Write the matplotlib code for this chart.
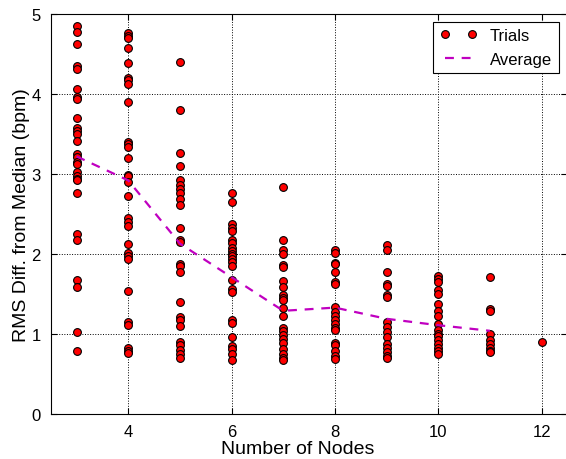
import matplotlib
matplotlib.use("Agg")
import matplotlib.pyplot as plt

# Trial values, one list per node count.
trials = {
    3: [4.85, 4.78, 4.62, 4.35, 4.31, 4.06, 3.96, 3.94, 3.70, 3.58, 3.54, 3.50,
        3.41, 3.25, 3.21, 3.15, 3.12, 3.02, 2.98, 2.94, 2.92, 2.76, 2.25, 2.18,
        1.68, 1.59, 1.02, 0.79],
    4: [4.76, 4.73, 4.70, 4.58, 4.39, 4.20, 4.17, 4.12, 3.90, 3.40, 3.37, 3.34,
        3.20, 2.99, 2.97, 2.90, 2.73, 2.45, 2.40, 2.35, 2.13, 2.01, 1.98, 1.94,
        1.54, 1.15, 1.11, 0.82, 0.79, 0.76],
    5: [4.40, 3.80, 3.26, 3.10, 2.93, 2.86, 2.81, 2.76, 2.69, 2.61, 2.32, 2.17,
        2.15, 1.88, 1.85, 1.78, 1.40, 1.21, 1.18, 1.10, 0.90, 0.86, 0.80, 0.75,
        0.70],
    6: [2.76, 2.65, 2.38, 2.32, 2.29, 2.18, 2.14, 2.08, 2.04, 2.00, 1.97, 1.94,
        1.90, 1.85, 1.68, 1.56, 1.52, 1.17, 1.14, 0.96, 0.85, 0.81, 0.75, 0.67],
    7: [2.84, 2.17, 2.05, 2.00, 1.86, 1.84, 1.66, 1.59, 1.49, 1.45, 1.42, 1.32,
        1.23, 1.08, 1.04, 0.99, 0.94, 0.89, 0.81, 0.75, 0.70, 0.67],
    8: [2.05, 2.01, 1.89, 1.87, 1.77, 1.65, 1.62, 1.34, 1.27, 1.23, 1.17, 1.12,
        1.08, 1.05, 0.89, 0.86, 0.79, 0.73, 0.69],
    9: [2.11, 2.05, 1.78, 1.63, 1.60, 1.49, 1.46, 1.15, 1.09, 1.02, 0.96, 0.88,
        0.83, 0.77, 0.72, 0.70],
    10: [1.72, 1.69, 1.65, 1.55, 1.50, 1.38, 1.29, 1.22, 1.12, 1.05, 1.00, 0.97,
         0.93, 0.88, 0.83, 0.79, 0.75],
    11: [1.71, 1.31, 1.29, 1.00, 0.93, 0.87, 0.83, 0.79, 0.77],
    12: [0.90],
}

avg_nodes = [3, 4, 5, 6, 7, 8, 9, 10, 11]
avg_values = [3.22, 2.92, 2.13, 1.71, 1.29, 1.33, 1.19, 1.11, 1.04]

x_ticks = [4, 6, 8, 10, 12]
y_ticks = [0, 1, 2, 3, 4, 5]


def main():
    plt.rcParams["font.family"] = ["Liberation Sans", "DejaVu Sans"]

    fig = plt.figure(figsize=(5.66, 4.6), dpi=100)
    # Right spine falls just outside the image, as in the reference.
    ax = fig.add_axes([0.0896, 0.0978, 0.913, 0.8696])

    xs = []
    ys = []
    for n, vals in trials.items():
        xs.extend([n] * len(vals))
        ys.extend(vals)

    ax.plot(xs, ys, linestyle="none", marker="o", markersize=5.6,
            markerfacecolor="red", markeredgecolor="black",
            markeredgewidth=0.8, label="Trials", zorder=3)
    ax.plot(avg_nodes, avg_values, linestyle="--", color="#c000c0",
            linewidth=1.6, dashes=(4, 3.5), label="Average", zorder=4)

    ax.set_xlim(2.5, 12.5)
    ax.set_ylim(0, 5)
    ax.set_xticks(x_ticks)
    ax.set_yticks(y_ticks)
    ax.tick_params(direction="in", top=True, right=True, labelsize=12,
                   length=4, width=0.8, pad=7)
    ax.grid(True, color="black", linestyle=":", linewidth=0.7)

    ax.set_xlabel("Number of Nodes", fontsize=14, labelpad=1)
    ax.xaxis.label.set_x(0.478)
    ax.set_ylabel("RMS Diff. from Median (bpm)", fontsize=14, labelpad=1)

    leg = ax.legend(loc="upper right", numpoints=2, fontsize=12,
                    fancybox=False, framealpha=1, edgecolor="black",
                    handlelength=2.2, borderaxespad=0,
                    bbox_to_anchor=(0.983, 0.981))
    leg.get_frame().set_linewidth(0.8)

    fig.savefig("out.png", dpi=100)


if __name__ == "__main__":
    main()
